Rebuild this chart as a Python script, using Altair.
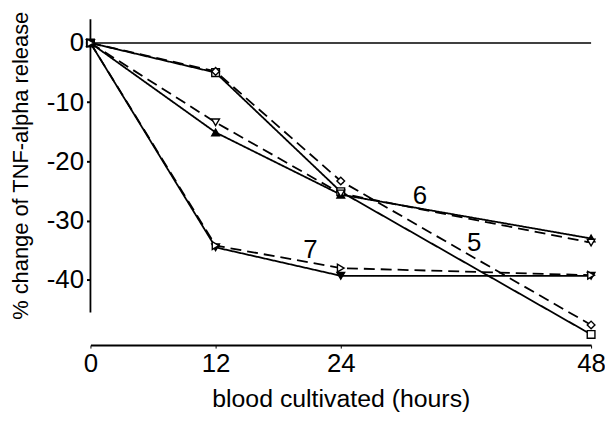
import altair as alt
import pandas as pd

hours = [0, 12, 24, 48]
series_names = ["A", "B", "C", "D", "E", "F"]
series_values = {
    "A": [0, -5.0, -25.1, -49.2],
    "B": [0, -4.8, -23.3, -47.6],
    "C": [0, -15.1, -25.6, -33.0],
    "D": [0, -13.4, -25.4, -33.7],
    "E": [0, -34.5, -39.3, -39.3],
    "F": [0, -34.2, -38.0, -39.2],
}
series_dashed = {"A": "solid", "B": "dashed", "C": "solid", "D": "dashed", "E": "solid", "F": "dashed"}
series_shape = ["square", "diamond", "triangle-up", "triangle-down", "triangle-down", "triangle-right"]
series_fill = ["white", "white", "black", "white", "black", "white"]

label_text = ["6", "5", "7"]
label_x = [31.6, 36.8, 21.1]
label_y = [-25.8, -33.8, -34.9]

y_ticks = [0, -10, -20, -30, -40]

rows = []
for s in series_names:
    for h, v in zip(hours, series_values[s]):
        rows.append({"series": s, "hours": h, "value": v, "style": series_dashed[s]})
df = pd.DataFrame(rows)
labels_df = pd.DataFrame({"text": label_text, "hours": label_x, "value": label_y})

FONT = "Liberation Sans"
xscale = alt.Scale(domain=[0, 48], nice=False, zero=False)
yscale = alt.Scale(domain=[-51, 4], nice=False, zero=False)

x_enc = alt.X("hours:Q", scale=xscale,
              axis=alt.Axis(values=hours, title="blood cultivated (hours)", grid=False,
                            domainColor="black", domainWidth=2, tickColor="black", tickSize=3,
                            labelFontSize=26, labelColor="black", labelPadding=3, labelFlush=False,
                            titleFontSize=25, titleFontWeight="normal", titleColor="black",
                            titlePadding=10, labelFont=FONT, titleFont=FONT))
y_enc = alt.Y("value:Q", scale=yscale,
              axis=alt.Axis(values=y_ticks, title="% change of TNF-alpha release", grid=False,
                            domain=False, tickColor="black", tickSize=4, tickWidth=2,
                            labelFontSize=26, labelColor="black", labelPadding=3, labelFlush=False,
                            labelExpr="'' + datum.value",
                            titleFontSize=22, titleFontWeight="normal", titleColor="black",
                            titlePadding=14, titleY=147, labelFont=FONT, titleFont=FONT))

lines = alt.Chart(df).mark_line(color="black", strokeWidth=1.8).encode(
    x=x_enc, y=y_enc,
    detail="series:N",
    strokeDash=alt.StrokeDash("style:N", scale=alt.Scale(domain=["solid", "dashed"], range=[[1, 0], [11, 6]]), legend=None),
)

points = alt.Chart(df).mark_point(filled=True, stroke="black", strokeWidth=1.4, size=60, opacity=1).encode(
    x="hours:Q", y="value:Q",
    shape=alt.Shape("series:N", scale=alt.Scale(domain=series_names, range=series_shape), legend=None),
    fill=alt.Fill("series:N", scale=alt.Scale(domain=series_names, range=series_fill), legend=None),
)

zero_df = pd.DataFrame({"x0": [0], "x1": [48], "y0": [0]})
zero_line = alt.Chart(zero_df).mark_rule(color="black", strokeWidth=1.3).encode(
    x="x0:Q", x2="x1:Q", y="y0:Q")

yaxis_df = pd.DataFrame({"x0": [0], "ya": [4], "yb": [-45.5]})
yaxis_line = alt.Chart(yaxis_df).mark_rule(color="black", strokeWidth=1.8).encode(
    x="x0:Q", y="ya:Q", y2="yb:Q")

texts = alt.Chart(labels_df).mark_text(fontSize=26, font=FONT, color="black").encode(
    x="hours:Q", y="value:Q", text="text:N")

chart = alt.layer(zero_line, yaxis_line, lines, points, texts).properties(
    width=504, height=328,
    autosize=alt.AutoSizeParams(type="none"),
    padding={"left": 83, "top": 10, "right": 14, "bottom": 70},
    background="white",
).configure_view(stroke=None)

chart.save("out.html", embed_options={"renderer": "svg", "actions": False})
